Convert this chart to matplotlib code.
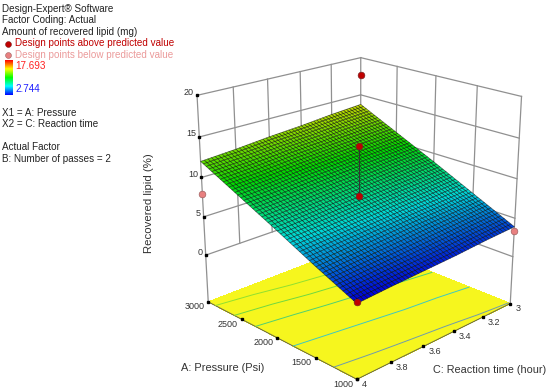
import numpy as np
import matplotlib
matplotlib.use("Agg")
import matplotlib.pyplot as plt
from matplotlib.colors import LinearSegmentedColormap
from mpl_toolkits.mplot3d import proj3d

plt.rcParams['font.family'] = ['Liberation Sans', 'DejaVu Sans']

# ---- data
pressure_ticks = [1000, 1500, 2000, 2500, 3000]
time_ticks = [3, 3.2, 3.4, 3.6, 3.8, 4]
lipid_ticks = [0, 5, 10, 15, 20]
# predicted recovered lipid, rows follow pressure_ticks, columns follow time_ticks
lipid_table = [
    [3.9, 3.7, 3.4, 3.2, 3.0, 2.744],
    [6.4, 6.1, 5.9, 5.6, 5.3, 5.0],
    [8.9, 8.6, 8.3, 8.0, 7.7, 7.4],
    [11.3, 11.0, 10.7, 10.4, 10.0, 9.7],
    [13.7, 13.4, 13.0, 12.7, 12.3, 12.0],
]
color_low, color_high = 2.744, 17.693
contour_levels = [4.0, 6.4, 8.8, 10.2, 11.5]
points_above_p = [3000, 2000, 2000, 1000]
points_above_t = [3, 3.5, 3.5, 4]
points_above_z = [17.693, 14.0, 7.8, 2.9]
points_below_p = [3000, 1000]
points_below_t = [4, 3]
points_below_z = [7.9, 3.4]
pole_p = [2000, 2000]
pole_t = [3.5, 3.5]
pole_z = [14.0, 8.0]
floor_z = -6.28

legend_header = ["Design-Expert® Software", "Factor Coding: Actual", "Amount of recovered lipid (mg)"]

cmap = LinearSegmentedColormap.from_list(
    "de", ["#0000ff", "#00ffff", "#00ff00", "#ffff00", "#ff0000"])
grid_c = "#909090"
text_c = "#333333"

fig = plt.figure(figsize=(5.5, 3.9), dpi=100)
W, H = 550.0, 390.0
S = 600.0
ax = fig.add_axes([(359 - 0.5135 * S) / W, (187 - 0.5135 * S) / H, S / W, S / H],
                  projection="3d", computed_zorder=False)
ax.set_axis_off()
ax.patch.set_alpha(0)
ax.set_xlim(1000, 3000)
ax.set_ylim(3, 4)
ax.set_zlim(floor_z, 20)
ax.view_init(elev=21, azim=135.7)
ax.set_box_aspect((1, 1, 1), zoom=0.62)
ax.set_proj_type("persp", focal_length=0.341)

# back walls
amin, amax, tmin, tmax = 1000, 3000, 3, 4
for z in lipid_ticks:
    ax.plot([amax, amax], [tmax, tmin], [z, z], color=grid_c, lw=0.9, zorder=1)
    ax.plot([amax, amin], [tmin, tmin], [z, z], color=grid_c, lw=0.9, zorder=1)
for t in time_ticks[1:-1]:
    ax.plot([amax, amax], [t, t], [0, 20], color=grid_c, lw=0.9, zorder=1)
for a in pressure_ticks[1:-1]:
    ax.plot([a, a], [tmin, tmin], [0, 20], color=grid_c, lw=0.9, zorder=1)
ax.plot([amax, amax], [tmin, tmin], [0, 20], color=grid_c, lw=0.9, zorder=1)
ax.plot([amax, amax], [tmax, tmax], [floor_z, 20], color=grid_c, lw=0.9, zorder=1)
ax.plot([amin, amin], [tmin, tmin], [floor_z, 20], color=grid_c, lw=0.9, zorder=1)

# floor with contour lines
fa, ft = np.meshgrid([amin, amax], [tmin, tmax], indexing="ij")
ax.plot_surface(fa, ft, np.full_like(fa, floor_z, dtype=float), color="#f6f61e",
                shade=False, linewidth=0, antialiased=False, zorder=2)
ax.plot([amax, amin, amin], [tmax, tmax, tmin], [floor_z] * 3, color="#666644", lw=0.7, zorder=2.1)

# fine mesh of the response surface, from the table
table = np.array(lipid_table)
af = np.linspace(amin, amax, 51)
tf = np.linspace(tmin, tmax, 51)
by_t = np.array([np.interp(tf, time_ticks, row) for row in table])
Zf = np.array([np.interp(af, pressure_ticks, col) for col in by_t.T]).T
Af, Tf = np.meshgrid(af, tf, indexing="ij")

cols = ["#6f9cab", "#40c8c0", "#50d070", "#70d840", "#90e030"]
ax.contour(Af, Tf, Zf, levels=contour_levels, zdir="z", offset=floor_z,
           colors=cols, linewidths=0.7, zorder=2.2)

norm = plt.Normalize(color_low, color_high)
ax.plot_surface(Af, Tf, Zf, rstride=1, cstride=1, facecolors=cmap(norm(Zf)) * np.array([0.85, 0.85, 0.85, 1]),
                shade=False, edgecolor=(0, 0, 0, 0.6), linewidth=0.45, zorder=3)

# design points
ax.plot(pole_p, pole_t, pole_z, color="#333333", lw=0.8, zorder=4)
ax.plot(points_above_p, points_above_t, points_above_z, ls="", marker="o", ms=4.8,
        mfc="#c00000", mec="#7a2020", mew=0.5, zorder=5)
ax.plot(points_below_p, points_below_t, points_below_z, ls="", marker="o", ms=4.8,
        mfc="#e88080", mec="#a06060", mew=0.5, zorder=5)

# ticks and labels
M = ax.get_proj()
def tick(x, y, z, label, dx, dy, ha):
    ax.plot([x], [y], [z], ls="", marker="s", ms=1.6, color="black", zorder=2.5)
    px, py, _ = proj3d.proj_transform(x, y, z, M)
    ax.annotate(label, (px, py), xytext=(dx, dy), textcoords="offset pixels",
                ha=ha, va="center", fontsize=6.5, color=text_c, annotation_clip=False)

for z in lipid_ticks:
    tick(amax, tmax, z, str(z), -3, 3, "right")
for a in pressure_ticks:
    tick(a, tmax, floor_z, str(a), -4, -5, "right")
for t in time_ticks:
    tick(amin, t, floor_z, f"{t:g}", 5, -5, "left")

fig.text(149 / W, 1 - 203 / H, "Recovered lipid (%)", rotation=90, ha="center", va="center",
         fontsize=8.2, color=text_c)
fig.text(223 / W, 1 - 368 / H, "A: Pressure (Psi)", ha="center", va="center", fontsize=7.9, color=text_c)
fig.text(433 / W, 1 - 370 / H, "C: Reaction time (hour)", ha="left", va="center", fontsize=7.8, color=text_c)

# legend block
def line(y, s, x=2, color="#222222"):
    fig.text(x / W, 1 - y / H, s, ha="left", va="center", fontsize=7.1, color=color)

for y, s in zip([8.5, 20, 32], legend_header):
    line(y, s)
line(43.5, "Design points above predicted value", 15, "#c00000")
line(55, "Design points below predicted value", 15, "#eb9a9a")
line(66, "17.693", 15, "#ff2020")
line(89.5, "2.744", 15, "#2020ff")
line(112.5, "X1 = A: Pressure")
line(124, "X2 = C: Reaction time")
line(147, "Actual Factor")
line(158.5, "B: Number of passes = 2")

lax = fig.add_axes([0, 0, 1, 1])
lax.set_axis_off()
lax.patch.set_alpha(0)
lax.plot([7.5], [43.5], ls="", marker="o", ms=4.2, mfc="#c00000", mec="#7a2020", mew=0.4)
lax.plot([7.5], [55], ls="", marker="o", ms=4.2, mfc="#e88080", mec="#a06060", mew=0.4)
lax.imshow(np.linspace(1, 0, 128)[:, None], cmap=cmap, aspect="auto", extent=(4.5, 12, 95.5, 61))
lax.set_xlim(0, W)
lax.set_ylim(H, 0)

fig.savefig("out.png", dpi=100)
